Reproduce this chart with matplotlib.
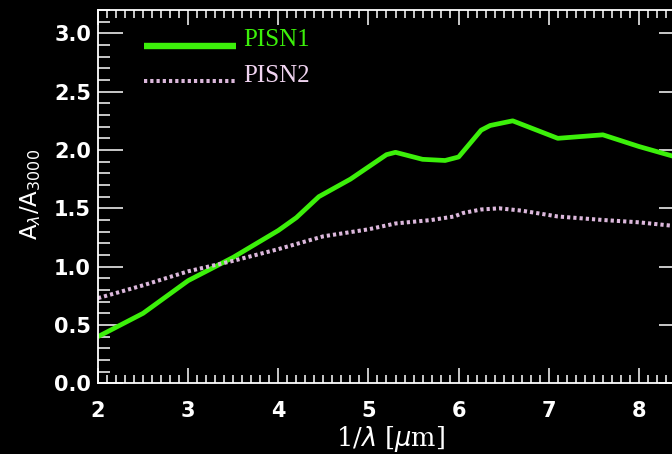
import matplotlib
matplotlib.use("Agg")
import matplotlib.pyplot as plt
from matplotlib.ticker import MultipleLocator
from matplotlib.font_manager import FontProperties

# Extinction curves normalised at 3000 A
pisn1_x = [2.0, 2.5, 3.0, 3.5, 4.0, 4.2, 4.45, 4.8, 5.2, 5.3, 5.6, 5.85, 6.0,
           6.25, 6.35, 6.6, 7.1, 7.6, 8.0, 8.5]
pisn1_y = [0.40, 0.60, 0.88, 1.08, 1.31, 1.42, 1.60, 1.75, 1.96, 1.98, 1.92,
           1.91, 1.94, 2.17, 2.21, 2.25, 2.10, 2.13, 2.03, 1.92]

pisn2_x = [2.0, 2.5, 3.0, 3.5, 4.0, 4.5, 5.0, 5.3, 5.7, 5.95, 6.05, 6.25,
           6.45, 6.7, 7.1, 7.6, 8.0, 8.5]
pisn2_y = [0.73, 0.84, 0.96, 1.05, 1.15, 1.26, 1.32, 1.37, 1.40, 1.43, 1.46,
           1.49, 1.50, 1.48, 1.43, 1.40, 1.38, 1.34]

series_labels = ["PISN1", "PISN2"]
xticks = [2, 3, 4, 5, 6, 7, 8]
yticks = [0.0, 0.5, 1.0, 1.5, 2.0, 2.5, 3.0]

GREEN = "#3cf00a"
PINK = "#dcb8dc"
FG = "white"

fig = plt.figure(figsize=(6.72, 4.54), dpi=100, facecolor="black")
W, H = 672, 454
x_left, x_right = 98, 684
y_bot, y_top = 383.3, 10
ax = fig.add_axes([x_left / W, (H - y_bot) / H,
                   (x_right - x_left) / W, (y_bot - y_top) / H])
ax.set_facecolor("black")

ax.plot(pisn1_x, pisn1_y, color=GREEN, lw=3.4, solid_joinstyle="round",
        solid_capstyle="butt")
ax.plot(pisn2_x, pisn2_y, color=PINK, lw=2.9, dashes=(0.8, 0.75),
        dash_capstyle="butt")

ax.set_xlim(2, 8.5)
ax.set_ylim(0, 3.2)
ax.set_xticks(xticks)
ax.set_yticks(yticks)
ax.set_xticklabels([str(t) for t in xticks])
ax.set_yticklabels([f"{t:.1f}" for t in yticks])
ax.xaxis.set_minor_locator(MultipleLocator(0.1))
ax.yaxis.set_minor_locator(MultipleLocator(0.1))

for s in ax.spines.values():
    s.set_color(FG)
    s.set_linewidth(1.3)

tick_font = FontProperties(family="DejaVu Sans", weight="bold", size=15)
ax.tick_params(axis="x", which="major", direction="in", length=11, width=1.1,
               top=True, bottom=True, colors=FG, pad=13)
ax.tick_params(axis="x", which="minor", direction="in", length=5.5, width=1.1,
               top=True, bottom=True, colors=FG)
ax.tick_params(axis="y", which="major", direction="in", length=18, width=1.1,
               left=True, right=True, colors=FG, pad=5)
ax.tick_params(axis="y", which="minor", direction="in", length=8.5, width=1.1,
               left=True, right=True, colors=FG)
for lab in ax.get_xticklabels() + ax.get_yticklabels():
    lab.set_fontproperties(tick_font)

ax.set_xlabel(r"1/$\lambda$ [$\mu$m]", color=FG, fontsize=18.5,
              family="DejaVu Serif", labelpad=2)
ax.set_ylabel(r"$\mathsf{A}_{\lambda}/\mathsf{A}_{3000}$", color=FG,
              fontsize=16.5)
ax.yaxis.set_label_coords(-(x_left - 43) / (x_right - x_left), 0.505)

# Legend drawn as short line samples with labels
aw, ah = x_right - x_left, y_bot - y_top
def ax_x(px):
    return (px - x_left) / aw
def ax_y(py):
    return (y_bot - py) / ah

ax.plot([ax_x(144), ax_x(236)], [ax_y(46), ax_y(46)], color=GREEN, lw=4.6,
        solid_capstyle="butt", transform=ax.transAxes, clip_on=False)
ax.plot([ax_x(144), ax_x(235)], [ax_y(81), ax_y(81)], color=PINK, lw=2.9,
        dashes=(0.8, 0.75), dash_capstyle="butt", transform=ax.transAxes,
        clip_on=False)
ax.text(ax_x(243), ax_y(46.5), series_labels[0], color=GREEN, fontsize=18,
        family="Liberation Serif", va="baseline", ha="left",
        transform=ax.transAxes)
ax.text(ax_x(243), ax_y(81.5), series_labels[1], color="#f0d4f0", fontsize=18,
        family="Liberation Serif", va="baseline", ha="left",
        transform=ax.transAxes)

fig.savefig("out.png", dpi=100, facecolor="black")
